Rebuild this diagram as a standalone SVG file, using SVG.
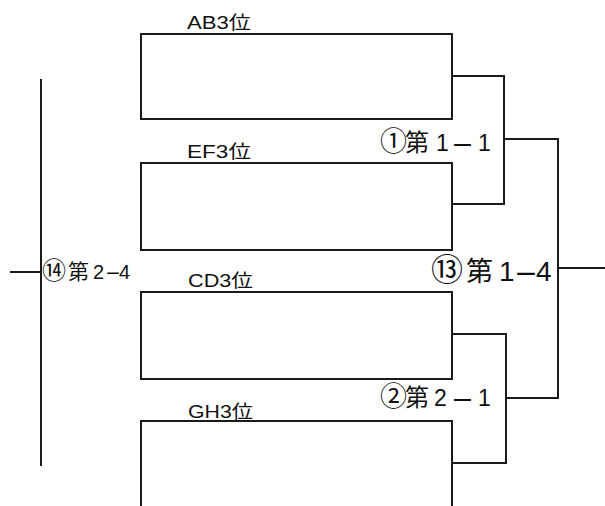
<svg xmlns="http://www.w3.org/2000/svg" width="605" height="506" viewBox="0 0 605 506">
<style>
.box{fill:#fff;stroke:#1a1a1a;stroke-width:2}
.ln{fill:none;stroke:#1a1a1a;stroke-width:2}
text{font-family:"Liberation Sans","Noto Sans CJK JP",sans-serif;fill:#111}
.lab{font-size:18px}
.m{font-size:23px}
.b{font-size:28px}
.s{font-size:20px}
</style>
<rect width="605" height="506" fill="#fff"/>
<g id="ab3">
<text class="lab" x="187" y="29" textLength="64" lengthAdjust="spacingAndGlyphs">AB3位</text>
<rect class="box" x="141" y="34" width="311" height="85"/>
</g>
<g id="ef3">
<text class="lab" x="187" y="158" textLength="64" lengthAdjust="spacingAndGlyphs">EF3位</text>
<rect class="box" x="141" y="163" width="311" height="87"/>
</g>
<g id="cd3">
<text class="lab" x="188" y="287" textLength="65" lengthAdjust="spacingAndGlyphs">CD3位</text>
<rect class="box" x="141" y="292" width="311" height="87"/>
</g>
<g id="gh3">
<text class="lab" x="188" y="418" textLength="65" lengthAdjust="spacingAndGlyphs">GH3位</text>
<rect class="box" x="141" y="421" width="311" height="95"/>
</g>
<g id="m1">
<text class="m" y="151"><tspan x="380" font-size="27">①</tspan><tspan x="405" font-size="24">第</tspan><tspan x="436">1</tspan><tspan x="451" textLength="23" lengthAdjust="spacingAndGlyphs">-</tspan><tspan x="478">1</tspan></text>
</g>
<g id="m2">
<text class="m" y="406"><tspan x="380" font-size="27">②</tspan><tspan x="405" font-size="24">第</tspan><tspan x="434">2</tspan><tspan x="451" textLength="23" lengthAdjust="spacingAndGlyphs">-</tspan><tspan x="478">1</tspan></text>
</g>
<g id="m13">
<text class="b" y="281"><tspan x="431" font-size="32">⑬</tspan><tspan x="466" font-size="27">第</tspan><tspan x="499">1</tspan><tspan x="514" textLength="24" lengthAdjust="spacingAndGlyphs">-</tspan><tspan x="536">4</tspan></text>
</g>
<g id="m14">
<text class="s" y="279"><tspan x="42" font-size="24">⑭</tspan><tspan x="68" font-size="21">第</tspan><tspan x="93">2</tspan><tspan x="105" textLength="16" lengthAdjust="spacingAndGlyphs">-</tspan><tspan x="119">4</tspan></text>
</g>
<g id="connectors">
<path class="ln" d="M452 76 H504 V204 H452"/>
<path class="ln" d="M452 334 H506 V463 H452"/>
<path class="ln" d="M504 139 H558 V398 H506"/>
<path class="ln" d="M558 268 H605"/>
<path class="ln" d="M41 79 V466"/>
<path class="ln" d="M10 272 H41"/>
</g>
</svg>
